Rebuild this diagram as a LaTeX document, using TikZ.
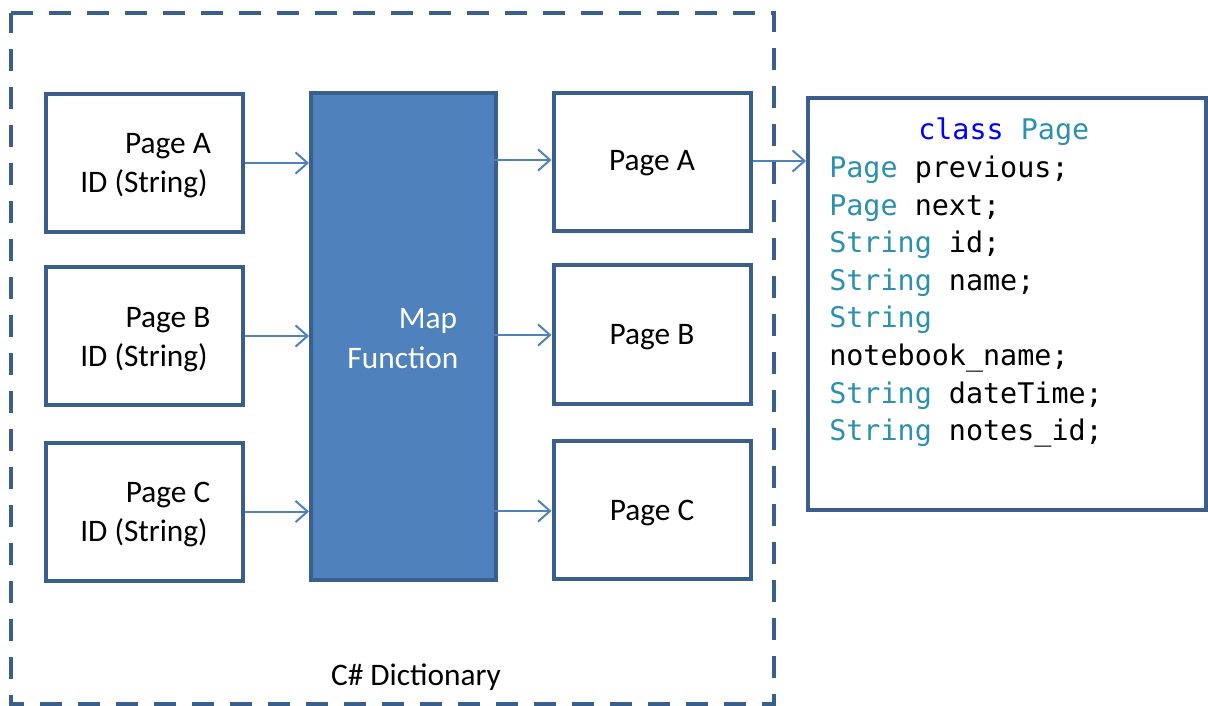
\documentclass[tikz,border=0pt]{standalone}
\usepackage{fontspec}
\setmainfont{Carlito}
\newfontfamily\codefont{DejaVu Sans Mono}
\usetikzlibrary{arrows.meta}
\definecolor{edgeblue}{HTML}{3A5F8C}
\definecolor{fillblue}{HTML}{4F81BD}
\definecolor{arrowblue}{HTML}{4F81BD}
\definecolor{typeteal}{HTML}{2B91AF}
\definecolor{kwblue}{HTML}{0000FF}
\tikzset{
  pagebox/.style={draw=edgeblue, line width=3pt, fill=white, minimum width=197*0.75pt, minimum height=138*0.75pt, inner sep=0pt},
  mapbox/.style={draw=edgeblue, line width=3pt, fill=fillblue, minimum width=185*0.75pt, minimum height=487*0.75pt, inner sep=0pt},
  codebox/.style={draw=edgeblue, line width=3pt, fill=white, minimum width=398*0.75pt, minimum height=412*0.75pt, inner sep=0pt},
  lbl/.style={font=\fontsize{23.5pt}{28pt}\selectfont, inner sep=0pt},
  codetext/.style={inner sep=0pt, anchor=base west, font=\codefont\fontsize{21.3pt}{28.1pt}\selectfont},
  link/.style={draw=arrowblue, line width=1.5pt, -{Straight Barb[length=9pt, width=16pt, line width=1.5pt]}},
}
\newcommand{\tyname}[1]{\textcolor{typeteal}{#1}}
\begin{document}
\begin{tikzpicture}[x=0.75pt, y=-0.75pt]
\useasboundingbox (0,0) rectangle (1208,706);
% outer dashed frame
\draw[edgeblue, line width=3pt, dash pattern=on 16.5pt off 12pt] (11,13) -- (774,13) -- (774,704) -- (11,704) -- cycle;
\node[lbl] (dict) at (416,677) {C\# Dictionary};

% input keys
\node[pagebox] (la) at (144,163) {};
\node[pagebox] (lb) at (144,336) {};
\node[pagebox] (lc) at (144,511.5) {};
\node[lbl] (laname) at (168,146) {Page A};
\node[lbl] (laid) at (144,184) {ID (String)};
\node[lbl] (lbname) at (168,320) {Page B};
\node[lbl] (lbid) at (144,358) {ID (String)};
\node[lbl] (lcname) at (168,495) {Page C};
\node[lbl] (lcid) at (144,533) {ID (String)};

% mapping stage
\node[mapbox] (map) at (403.5,336.5) {};
\node[lbl, text=white] (mapt1) at (428,321) {Map};
\node[lbl, text=white] (mapt2) at (403,358) {Function};

% output pages
\node[pagebox] (ra) at (652,162) {};
\node[pagebox] (rb) at (652,334.5) {};
\node[pagebox] (rc) at (652,510) {};
\node[lbl] (ratext) at (652,163) {Page A};
\node[lbl] (rbtext) at (652,337) {Page B};
\node[lbl] (rctext) at (652,513) {Page C};

% class definition, one line per node
\node[codebox] (code) at (1007,304) {};
\node[codetext] (c0) at (918,140) {\textcolor{kwblue}{class} \tyname{Page}};
\node[codetext] (c1) at (829,178) {\tyname{Page} previous;};
\node[codetext] (c2) at (829,215.5) {\tyname{Page} next;};
\node[codetext] (c3) at (829,253) {\tyname{String} id;};
\node[codetext] (c4) at (829,290.5) {\tyname{String} name;};
\node[codetext] (c5) at (829,328) {\tyname{String}};
\node[codetext] (c6) at (829,365.5) {notebook\_name;};
\node[codetext] (c7) at (829,403) {\tyname{String} dateTime;};
\node[codetext] (c8) at (829,440.5) {\tyname{String} notes\_id;};

% connectors
\draw[link] (la.east) -- (map.west |- la.east);
\draw[link] (lb.east) -- (map.west |- lb.east);
\draw[link] (lc.east) -- (map.west |- lc.east);
\draw[link] ([xshift=-6*0.75pt]map.east |- 0,160) -- (ra.west |- 0,160);
\draw[link] ([xshift=-6*0.75pt]map.east |- 0,335) -- (rb.west |- 0,335);
\draw[link] ([xshift=-6*0.75pt]map.east |- 0,511) -- (rc.west |- 0,511);
\draw[link] (ra.east |- 0,161) -- (code.west |- 0,161);
\end{tikzpicture}
\end{document}
